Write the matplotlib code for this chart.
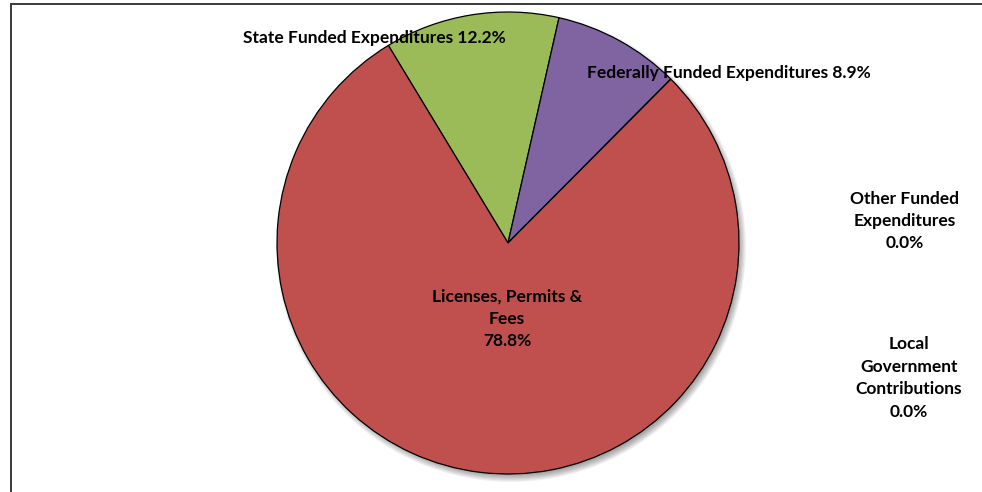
import matplotlib
matplotlib.use("Agg")
import matplotlib.pyplot as plt
from matplotlib.patches import Circle, Rectangle

categories = ["State Funded Expenditures", "Federally Funded Expenditures",
              "Other Funded Expenditures", "Local Government Contributions",
              "Licenses, Permits & Fees"]
values = [12.2, 8.9, 0.0, 0.0, 78.8]
colors = ["#9BBB59", "#8064A2", "#4BACC6", "#F79646", "#C0504D"]

# label text layouts (line breaks as in the chart)
label_texts = [
    "State Funded Expenditures 12.2%",
    "Federally Funded Expenditures 8.9%",
    "Other Funded\nExpenditures\n0.0%",
    "Local\nGovernment\nContributions\n0.0%",
    "Licenses, Permits &\nFees\n78.8%",
]
label_pos = [(374, 454), (729, 419), (905, 271), (909, 114), (507, 173)]

W, H = 982, 492
fig = plt.figure(figsize=(W / 100, H / 100), dpi=100)
ax = fig.add_axes([0, 0, 1, 1])
ax.set_xlim(0, W)
ax.set_ylim(0, H)
ax.axis("off")

cx, cy, r = 508, 249, 231

# soft shadow
for k in range(8):
    ax.add_patch(Circle((cx + 3, cy - 4), r + 4 - k, facecolor="black",
                        edgecolor="none", alpha=0.05, zorder=0))

wedges, _ = ax.pie(values, colors=colors, startangle=121.2, counterclock=False,
                   center=(cx, cy), radius=r, frame=True,
                   wedgeprops=dict(edgecolor="black", linewidth=0.9))
for w in wedges:
    w.set_zorder(2)
ax.set_xlim(0, W)
ax.set_ylim(0, H)
ax.set_aspect("equal")
ax.axis("off")

for txt, (x, y) in zip(label_texts, label_pos):
    ax.text(x, y, txt, ha="center", va="center", fontsize=12.5,
            fontweight="bold", family=["Lato", "DejaVu Sans"],
            linespacing=1.5, color="black", zorder=5)

ax.add_patch(Rectangle((11.5, -20), 1000, 488 + 20, fill=False,
                       edgecolor="#3a3a3a", linewidth=1.4, zorder=6,
                       clip_on=False))

fig.savefig("out.png", dpi=100)
